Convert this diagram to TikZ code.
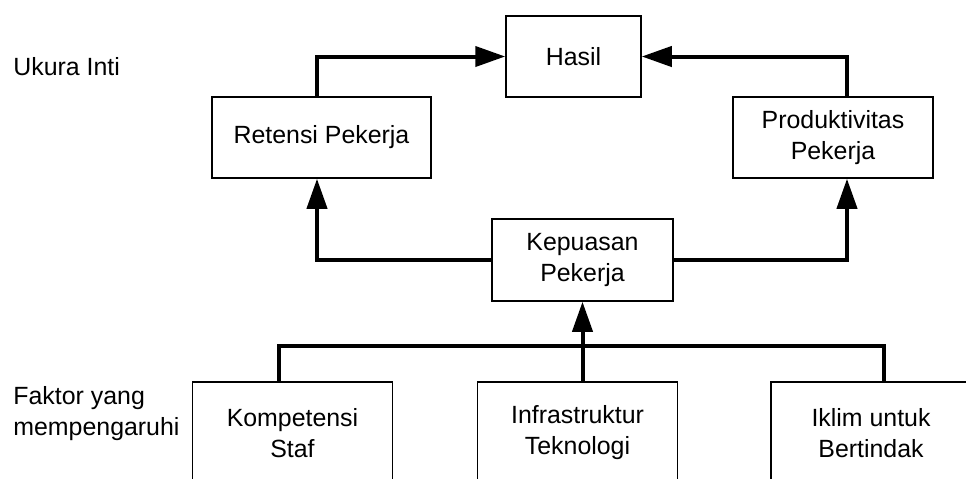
\documentclass[tikz,border=0pt]{standalone}
\usepackage{fontspec}
\setmainfont{Liberation Sans}
\usetikzlibrary{arrows.meta,calc}

\begin{document}
\begin{tikzpicture}[
  x=0.5pt, y=-0.5pt,
  font=\fontsize{12.45}{15.5}\selectfont,
  box/.style={draw, line width=0.75pt, align=center, inner sep=0pt,
              minimum height=40.5pt},
  factor/.style={box, minimum width=100pt, minimum height=51pt},
  lbl/.style={inner sep=0pt, align=left},
  link/.style={line width=2pt},
  arr/.style={link, -{Triangle[length=15pt,width=10pt]}}
]
\fill[white] (0,0) rectangle (966,478);
\useasboundingbox (0,0) rectangle (966,478);
% core measures
\node[box, minimum width=67.5pt] (hasil) at (573.5,56.5) {Hasil};
\node[box, minimum width=109.5pt] (ret) at (321.5,137.5) {Retensi Pekerja};
\node[box, minimum width=100pt] (prod) at (833,137.5) {Produktivitas\\ Pekerja};
\node[box, minimum width=90.5pt, minimum height=41pt] (kep) at (582.5,260) {Kepuasan\\ Pekerja};
% influencing factors
\node[factor] (komp) at (292.5,433) {Kompetensi\\ Staf};
\node[factor] (infra) at (577.5,433) {Infrastruktur\\ Teknologi};
\node[factor] (iklim) at (871,433) {Iklim untuk\\ Bertindak};
% side labels
\node[lbl, anchor=base west] (ukura) at (13,75) {Ukura Inti};
\node[lbl, anchor=west] (faktor) at (13,413.5) {Faktor yang\\ mempengaruhi};
% connectors
\coordinate (bus) at (0,346);
\draw[arr] ($(ret.north)+(-4.5,0)$) |- (hasil.west);
\draw[arr] ($(prod.north)+(14,0)$) |- (hasil.east);
\draw[arr] (kep.west) -| ($(ret.south)+(-4.5,0)$);
\draw[arr] (kep.east) -| ($(prod.south)+(14,0)$);
\draw[link] ($(komp.north)+(-13.5,0)$) |- (bus -| kep.south)
            -| ($(iklim.north)+(13,0)$);
\draw[arr] (infra.north -| kep.south) -- (kep.south);
\end{tikzpicture}
\end{document}
